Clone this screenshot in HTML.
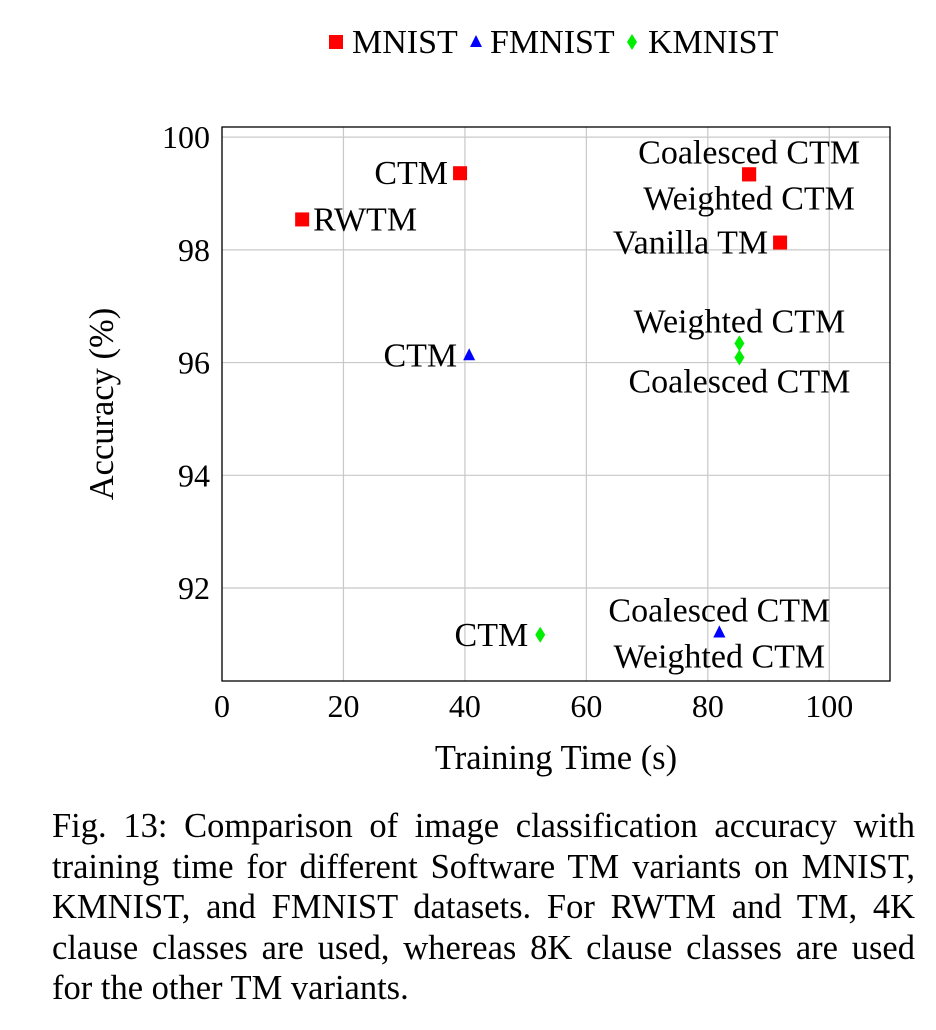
<!DOCTYPE html>
<html><head><meta charset="utf-8"><style>
body{margin:0;background:#fff;width:936px;height:1030px;overflow:hidden;font-family:"Liberation Serif",serif}
#cap{position:absolute;left:52px;top:806px;width:863px;font-size:34.5px;line-height:40.6px;color:#000}
#cap div{text-align:justify;text-align-last:justify;white-space:nowrap}
#cap div.last{text-align-last:left}
</style></head><body>
<svg id="chart" width="936" height="800" style="position:absolute;left:0;top:0" font-family="Liberation Serif, serif"></svg>
<div id="cap">
<div>Fig. 13: Comparison of image classification accuracy with</div>
<div>training time for different Software TM variants on MNIST,</div>
<div>KMNIST, and FMNIST datasets. For RWTM and TM, 4K</div>
<div>clause classes are used, whereas 8K clause classes are used</div>
<div class="last">for the other TM variants.</div>
</div>
<script>
const xTicks=[0,20,40,60,80,100];
const yTicks=[92,94,96,98,100];
const mnistX=[39.2,13.2,86.8,86.8,91.9];
const mnistY=[99.36,98.54,99.34,99.34,98.13];
const mnistLabels=["CTM","RWTM","Coalesced CTM","Weighted CTM","Vanilla TM"];
const mnistPos=["left","right","above","below","left"];
const fmnistX=[40.7,81.9,81.9];
const fmnistY=[96.13,91.21,91.21];
const fmnistLabels=["CTM","Coalesced CTM","Weighted CTM"];
const fmnistPos=["left","above","below"];
const kmnistX=[52.4,85.2,85.2];
const kmnistY=[91.17,96.34,96.09];
const kmnistLabels=["CTM","Weighted CTM","Coalesced CTM"];
const kmnistPos=["left","above","below"];

const L=222,R=890,T=127,B=681,xmin=0,xmax=110,ymin=90.35,ymax=100.18;
const sx=v=>L+(v-xmin)/(xmax-xmin)*(R-L);
const sy=v=>B-(v-ymin)/(ymax-ymin)*(B-T);
const svg=document.getElementById('chart');
const NS='http://www.w3.org/2000/svg';
function mk(t,a,p){const e=document.createElementNS(NS,t);for(const k in a)e.setAttribute(k,a[k]);(p||svg).appendChild(e);return e;}
xTicks.forEach(v=>{
  const g=mk('line',{x1:sx(v),x2:sx(v),y1:T,y2:B,stroke:'#c8c8c8','stroke-width':1.2});
  
  
  const t=mk('text',{x:sx(v),y:717,'font-size':32,'text-anchor':'middle'});t.textContent=v;
  
  
});
yTicks.forEach(v=>{
  const g=mk('line',{x1:L,x2:R,y1:sy(v),y2:sy(v),stroke:'#c8c8c8','stroke-width':1.2});
  
  
  const t=mk('text',{x:210,y:sy(v)+11,'font-size':32,'text-anchor':'end'});t.textContent=v;
  
  
});
const fr=mk('rect',{x:L,y:T,width:R-L,height:B-T,fill:'none',stroke:'#000','stroke-width':1.3});


const xt=mk('text',{x:556,y:769,'font-size':34.5,'text-anchor':'middle'});xt.textContent='Training Time (s)';


const yt=mk('text',{x:0,y:0,'font-size':34.5,'text-anchor':'middle',transform:'translate(113,404) rotate(-90)'});yt.textContent='Accuracy (%)';



function marker(kind,x,y){
  let e;
  if(kind==='sq')e=mk('rect',{x:x-7,y:y-7,width:14,height:14,fill:'#ff0000'});
  else if(kind==='tri')e=mk('polygon',{points:`${x},${y-7} ${x-6},${y+5} ${x+6},${y+5}`,fill:'#0000ff'});
  else e=mk('polygon',{points:`${x},${y-8} ${x+5},${y} ${x},${y+8} ${x-5},${y}`,fill:'#00ee00'});
  return e;
}
function series(kind,xs,ys,labs,pos,name){
  xs.forEach((xv,i)=>{
    const x=sx(xv),y=sy(ys[i]);
    const m=marker(kind,x,y);
    
    
    let a={'font-size':34};
    if(pos[i]==='left'){a.x=x-12;a.y=y+11;a['text-anchor']='end';}
    else if(pos[i]==='right'){a.x=x+11;a.y=y+11;a['text-anchor']='start';}
    else if(pos[i]==='above'){a.x=x;a.y=y-11;a['text-anchor']='middle';}
    else {a.x=x;a.y=y+35;a['text-anchor']='middle';}
    const t=mk('text',a);t.textContent=labs[i];
    
    
  });
}
series('sq',mnistX,mnistY,mnistLabels,mnistPos,'mnist');
series('tri',fmnistX,fmnistY,fmnistLabels,fmnistPos,'fmnist');
series('dia',kmnistX,kmnistY,kmnistLabels,kmnistPos,'kmnist');
[['sq',336,'MNIST',352],['tri',476,'FMNIST',490],['dia',632,'KMNIST',648]].forEach(l=>{
  const m=marker(l[0],l[1],42);
  
  
  const t=mk('text',{x:l[3],y:53,'font-size':34});t.textContent=l[2];
  
  
});
</script>
</body></html>
